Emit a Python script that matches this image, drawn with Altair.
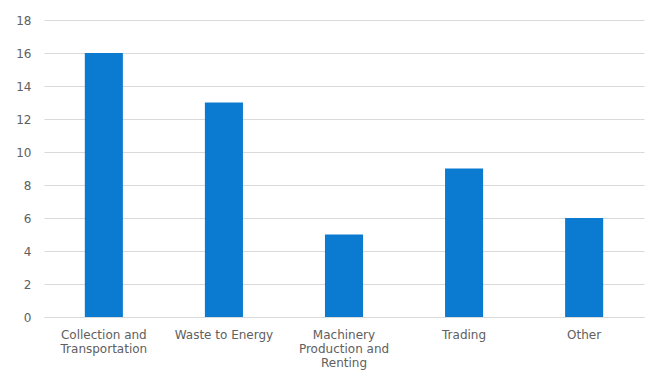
import json
import altair as alt
import pandas as pd

# Number of companies per segment
categories = [
    "Collection and Transportation",
    "Waste to Energy",
    "Machinery Production and Renting",
    "Trading",
    "Other",
]
values = [16, 13, 5, 9, 6]

# How each category label is broken onto lines under the axis
label_lines = {
    "Collection and Transportation": ["Collection and", "Transportation"],
    "Waste to Energy": ["Waste to Energy"],
    "Machinery Production and Renting": ["Machinery", "Production and", "Renting"],
    "Trading": ["Trading"],
    "Other": ["Other"],
}

df = pd.DataFrame({"category": categories, "value": values})

label_expr = "".join(
    f"datum.label == {json.dumps(k)} ? {json.dumps(v)} : " for k, v in label_lines.items()
) + "datum.label"

FONT = "DejaVu Sans"
GREY = "#606060"

chart = (
    alt.Chart(df)
    .mark_bar(color="#0a7bd0")
    .encode(
        x=alt.X(
            "category:N",
            sort=categories,
            title=None,
            scale=alt.Scale(paddingInner=0.683, paddingOuter=0.34),
            axis=alt.Axis(
                labelAngle=0,
                labelExpr=label_expr,
                labelFont=FONT,
                labelFontSize=12,
                labelColor=GREY,
                labelLineHeight=14,
                labelPadding=12,
                labelLimit=200,
                ticks=False,
                domain=True,
                domainColor="#d9d9d9",
                grid=False,
            ),
        ),
        y=alt.Y(
            "value:Q",
            title=None,
            scale=alt.Scale(domain=[0, 18], nice=False),
            axis=alt.Axis(
                values=list(range(0, 19, 2)),
                labelFont=FONT,
                labelFontSize=12,
                labelColor=GREY,
                labelPadding=13,
                ticks=False,
                tickSize=0,
                domain=False,
                grid=True,
                gridColor="#d9d9d9",
                gridWidth=1,
            ),
        ),
    )
    .properties(
        width=600,
        height=297,
        background="white",
        autosize=alt.AutoSizeParams(type="none"),
        padding={"left": 44, "top": 20, "right": 4, "bottom": 56},
    )
    .configure_view(stroke="transparent", strokeWidth=0)
)

chart.save("out.html", embed_options={"renderer": "svg", "actions": False})
